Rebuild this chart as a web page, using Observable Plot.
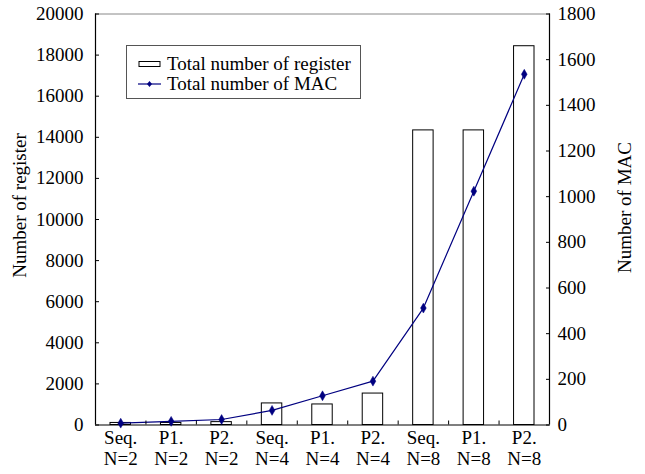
<!DOCTYPE html>
<html>
<head>
<meta charset="utf-8">
<script src="https://cdn.jsdelivr.net/npm/d3@7"></script>
<script src="https://cdn.jsdelivr.net/npm/@observablehq/plot@0.6"></script>
<style>
  html, body { margin: 0; padding: 0; background: #fff; }
  #wrap { position: relative; width: 645px; height: 474px; font-family: "Liberation Serif", "Times New Roman", serif; }
  #wrap svg text { font-family: "Liberation Serif", "Times New Roman", serif; }
  #legend { position: absolute; left: 126px; top: 45px; width: 233px; height: 52px; border: 1px solid #555; background: #fff; box-sizing: content-box; font-size: 19px; color: #000; }
  .row { position: absolute; left: 11px; height: 20px; display: flex; align-items: center; white-space: nowrap; }
  .row svg { margin-right: 5px; }
</style>
</head>
<body>
<div id="wrap"></div>
<script>
const categories = ["Seq.\nN=2", "P1.\nN=2", "P2.\nN=2", "Seq.\nN=4", "P1.\nN=4", "P2.\nN=4", "Seq.\nN=8", "P1.\nN=8", "P2.\nN=8"];
const registers = [100, 100, 140, 1050, 1000, 1530, 14336, 14336, 18432];
const macs = [8, 16, 24, 64, 128, 192, 512, 1024, 1536];
const registerTicks = [0, 2000, 4000, 6000, 8000, 10000, 12000, 14000, 16000, 18000, 20000];
const macTicks = [0, 200, 400, 600, 800, 1000, 1200, 1400, 1600, 1800];
const seriesNames = ["Total number of register", "Total number of MAC"];
const axisTitles = ["Number of register", "Number of MAC"];

const regMax = registerTicks[registerTicks.length - 1];
const macMax = macTicks[macTicks.length - 1];
const k = regMax / macMax;

const data = categories.map((c, i) => ({i, c, reg: registers[i], mac: macs[i]}));
const boundaries = d3.range(1, categories.length);
const centers = categories.map((c, i) => i + 0.5);

const font = "Liberation Serif";
const navy = "#000080";
const fs = 19;

const chart = Plot.plot({
  width: 645,
  height: 474,
  marginLeft: 95,
  marginRight: 96,
  marginTop: 13.5,
  marginBottom: 49.5,
  style: {fontFamily: font, fontSize: fs + "px", color: "#000", background: "transparent"},
  x: {type: "linear", domain: [0, categories.length]},
  y: {domain: [0, regMax]},
  marks: [
    Plot.rect(data, {x1: "i", x2: d => d.i + 1, y1: 0, y2: "reg", fill: "#fff", stroke: "#000", strokeWidth: 1, insetLeft: 15, insetRight: 15}),
    Plot.ruleY([regMax], {stroke: "#888", strokeWidth: 1}),
    Plot.ruleY([0], {stroke: "#000", strokeWidth: 1.2}),
    Plot.ruleX([0, categories.length], {stroke: "#000", strokeWidth: 1.2}),
    Plot.line(data, {x: d => d.i + 0.5, y: d => d.mac * k, stroke: navy, strokeWidth: 1.2}),
    Plot.dot(data, {x: d => d.i + 0.5, y: d => d.mac * k, symbol: "diamond", r: 3, fill: navy, stroke: navy, strokeWidth: 0.5}),
    Plot.axisY(registerTicks, {anchor: "left", tickSize: -4, tickPadding: 16, tickFormat: d => String(d), label: null, fontSize: fs, fontFamily: font}),
    Plot.axisY(macTicks.map(v => v * k), {anchor: "right", tickSize: -4, tickPadding: 12, tickFormat: d => String(Math.round(d / k)), label: null, fontSize: fs, fontFamily: font}),
    Plot.axisX(boundaries, {anchor: "bottom", tickSize: -4, tickPadding: 0, tickFormat: () => "", label: null}),
    Plot.axisX(centers, {anchor: "bottom", tickSize: 0, tickPadding: 3, tickFormat: d => categories[Math.floor(d)], label: null, fontSize: fs, fontFamily: font, lineHeight: 1.15}),
    Plot.text([axisTitles[0]], {frameAnchor: "left", textAnchor: "middle", rotate: -90, dx: -76, dy: -14, fontSize: fs, fontFamily: font}),
    Plot.text([axisTitles[1]], {frameAnchor: "right", textAnchor: "middle", rotate: -90, dx: 75, dy: -12, fontSize: fs, fontFamily: font})
  ]
});

const wrap = document.getElementById("wrap");
wrap.appendChild(chart);

const legend = document.createElement("div");
legend.id = "legend";
legend.innerHTML = `
  <div class="row" style="top:8px"><svg width="24" height="10"><rect x="1" y="2.5" width="21" height="5" fill="#fff" stroke="#000" stroke-width="1"/></svg>${seriesNames[0]}</div>
  <div class="row" style="top:28px"><svg width="24" height="10"><line x1="0" y1="5" x2="23" y2="5" stroke="${navy}" stroke-width="1.2"/><path d="M11.5,2 L14,5 L11.5,8 L9,5 Z" fill="${navy}"/></svg>${seriesNames[1]}</div>`;
wrap.appendChild(legend);
</script>
</body>
</html>
